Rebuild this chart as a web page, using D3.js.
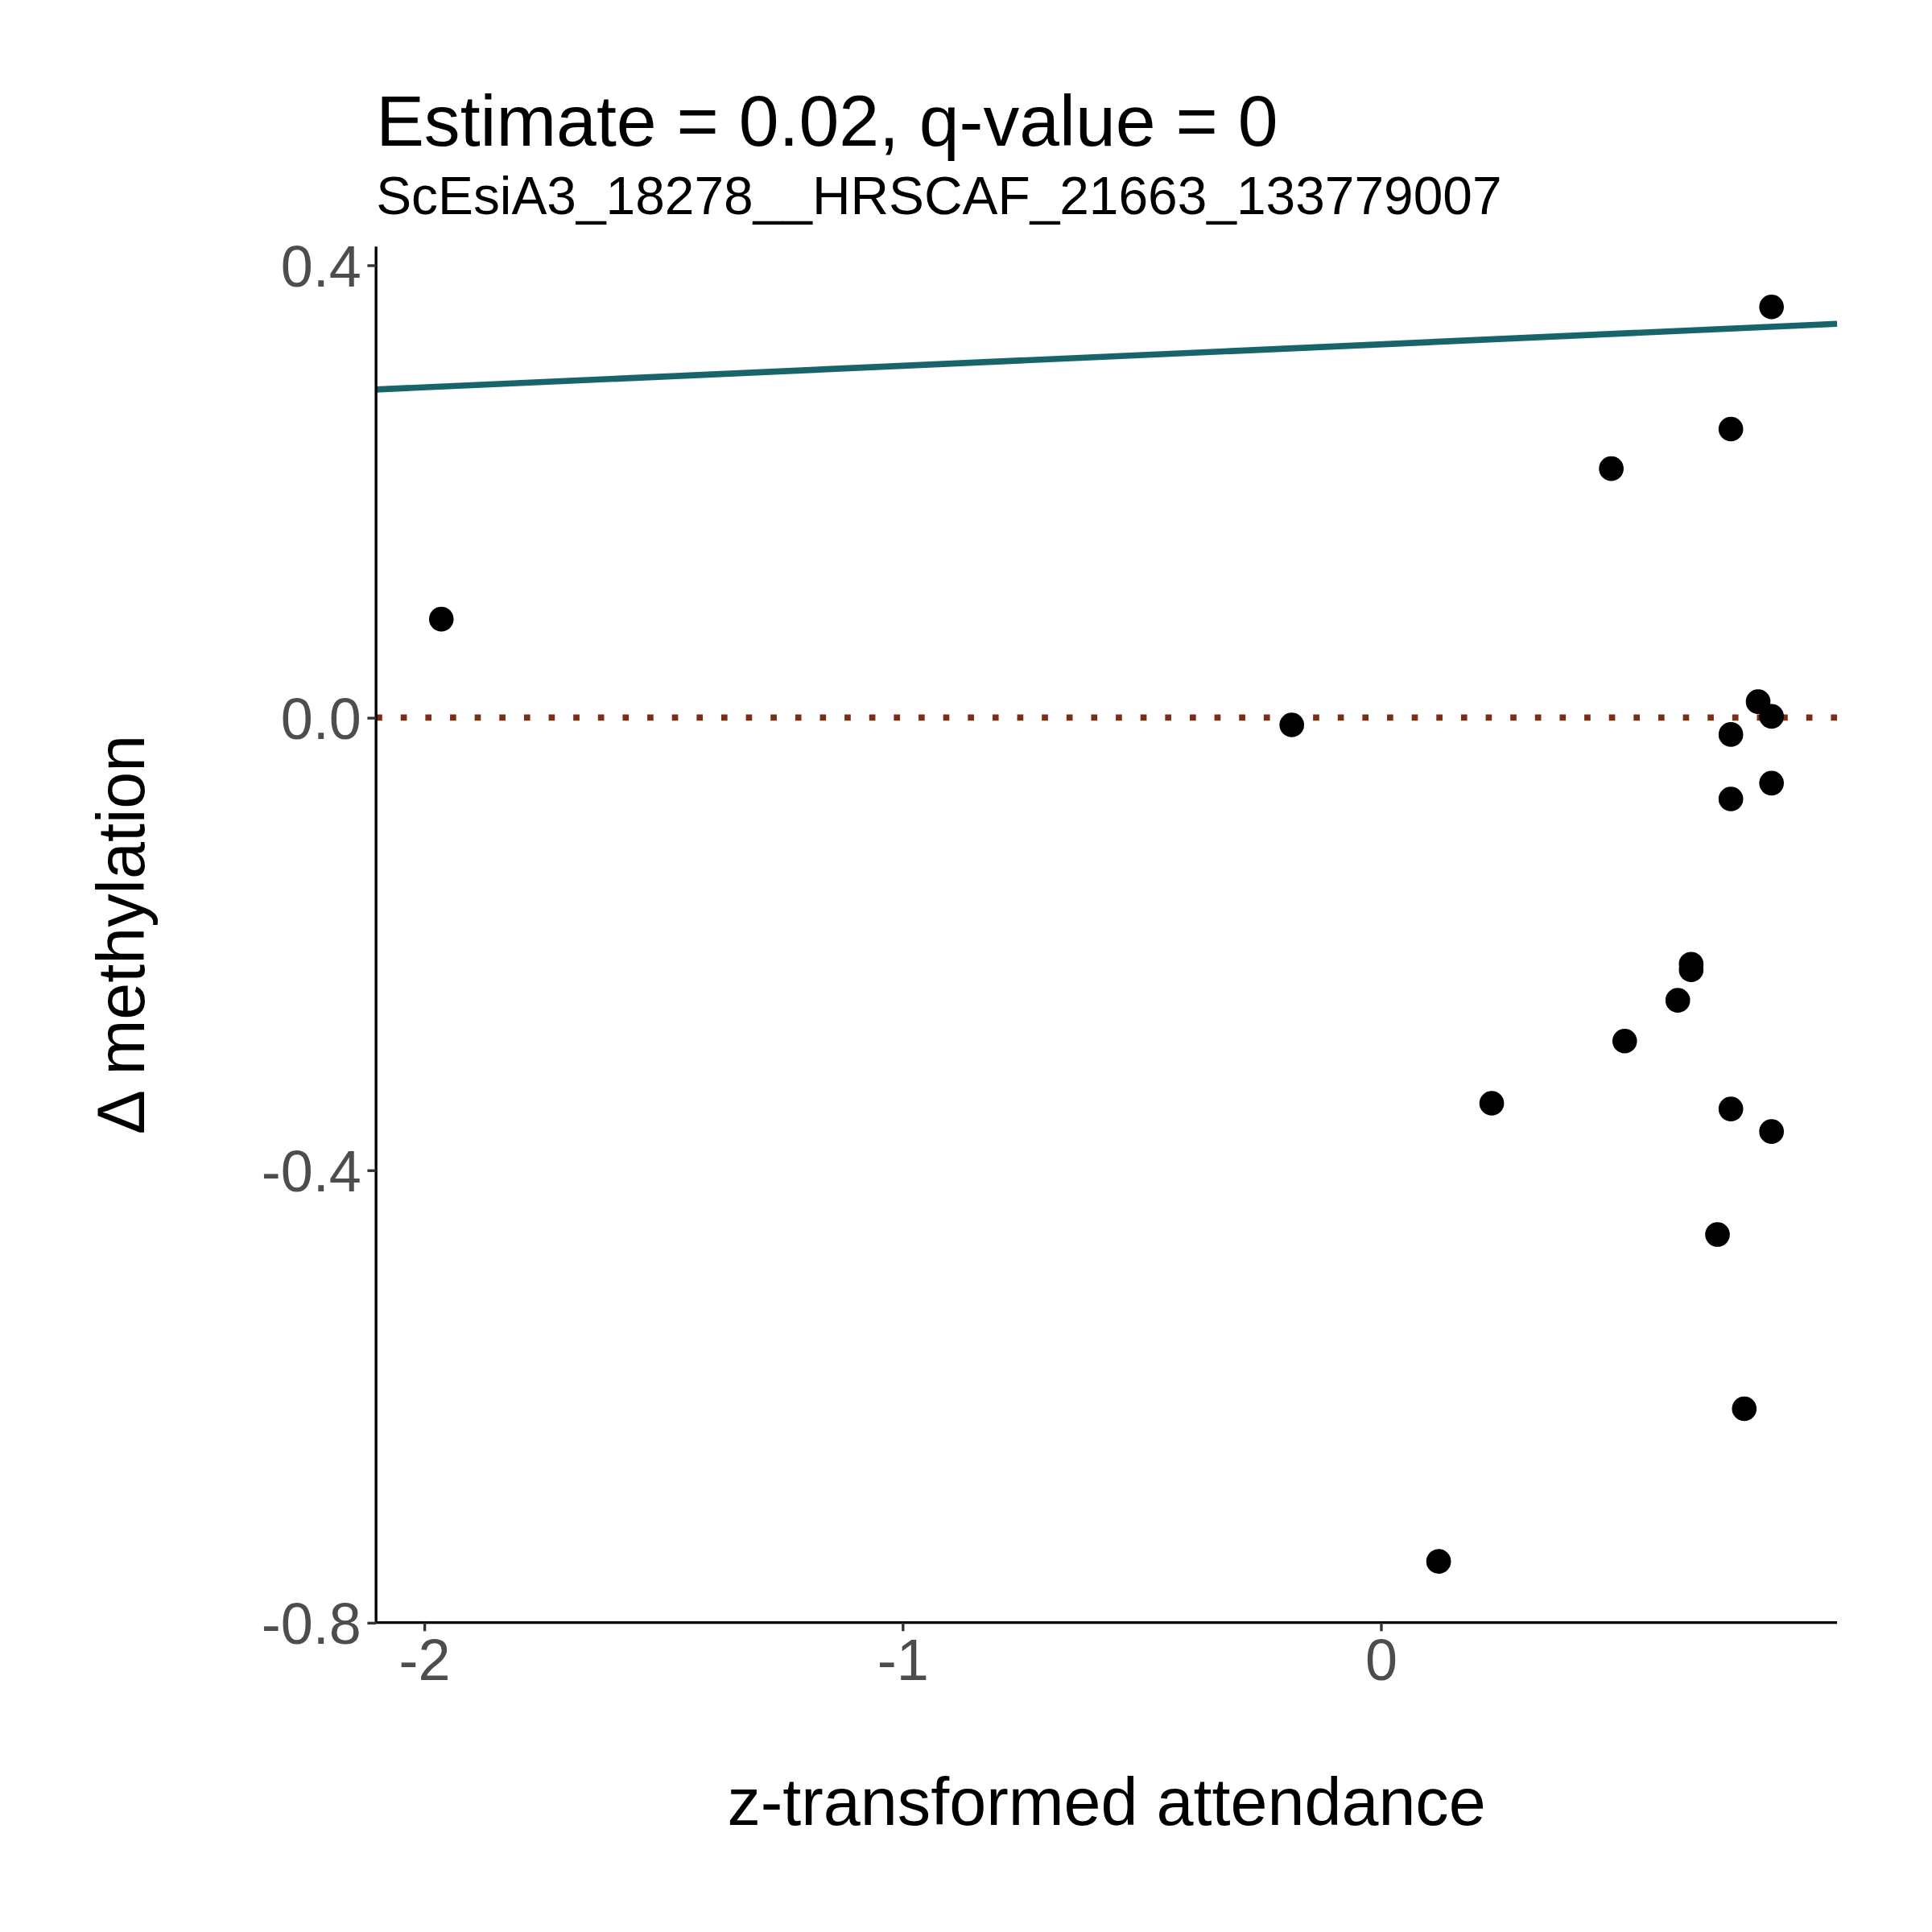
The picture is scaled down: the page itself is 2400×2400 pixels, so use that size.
<!DOCTYPE html>
<html><head><meta charset="utf-8">
<script src="https://cdn.jsdelivr.net/npm/d3@7"></script>
<style>body{margin:0;background:#fff}</style></head>
<body><script>
const xs=[-1.964,-0.186,0.482,0.732,0.817,0.789,0.817,0.732,0.817,0.732,0.649,0.649,0.621,0.510,0.232,0.732,0.817,0.704,0.760,0.121];
const ys=[0.087,-0.0065,0.220,0.255,0.363,0.014,0.001,-0.015,-0.058,-0.072,-0.218,-0.223,-0.250,-0.286,-0.341,-0.346,-0.366,-0.457,-0.611,-0.746];
const fitX=[-2.1005,0.954], fitY=[0.290,0.348];
const xTicks=[-2,-1,0], yTicks=[0.4,0.0,-0.4,-0.8];
const xLabels=["-2","-1","0"], yLabels=["0.4","0.0","-0.4","-0.8"];
const L=305,R=1490,T=200,B=1316;
const svg=d3.select("body").append("svg").attr("width",2400).attr("height",2400).attr("viewBox","0 0 1567 1567").style("font-family","Liberation Sans, Arial, sans-serif");
const x=d3.scaleLinear().domain([-2.1005,0.954]).range([L,R]);
const y=d3.scaleLinear().domain([-0.8,0.4163]).range([B,T]);
svg.append("line").attr("x1",L).attr("x2",R).attr("y1",y(0)).attr("y2",y(0)).attr("stroke","#7a2e14").attr("stroke-width",5).attr("stroke-dasharray","5,15");
svg.append("line").attr("x1",x(fitX[0])).attr("x2",x(fitX[1])).attr("y1",y(fitY[0])).attr("y2",y(fitY[1])).attr("stroke","#17646b").attr("stroke-width",5);
svg.selectAll("circle.p").data(xs).enter().append("circle").attr("cx",d=>x(d)).attr("cy",(d,i)=>y(ys[i])).attr("r",10).attr("fill","#000");
const gx=svg.append("g").attr("transform",`translate(0,${B})`).call(d3.axisBottom(x).tickValues(xTicks).tickFormat((d,i)=>xLabels[i]).tickSize(7).tickPadding(6));
const gy=svg.append("g").attr("transform",`translate(${L},0)`).call(d3.axisLeft(y).tickValues(yTicks).tickFormat((d,i)=>yLabels[i]).tickSize(7).tickPadding(5));
[gx,gy].forEach(g=>{g.select(".domain").attr("stroke","#000").attr("stroke-width",2.2);g.selectAll(".tick line").attr("stroke","#333").attr("stroke-width",2.2);g.selectAll("text").attr("fill","#4d4d4d").style("font-size","47px").style("font-family","Liberation Sans, Arial, sans-serif");});
gy.selectAll("text").attr("dy","0.36em");
gx.select(".domain").attr("d",`M${L},0H${R}`);
gy.select(".domain").attr("d",`M0,${T}V${B}`);
svg.append("text").attr("x",305).attr("y",118).style("font-size","58.5px").text("Estimate = 0.02, q-value = 0");
svg.append("text").attr("x",305).attr("y",174).style("font-size","43px").text("ScEsiA3_18278__HRSCAF_21663_133779007");
svg.append("text").attr("x",(L+R)/2).attr("y",1480).attr("text-anchor","middle").style("font-size","54px").text("z-transformed attendance");
svg.append("text").attr("transform",`translate(117,${(T+B)/2}) rotate(-90)`).attr("text-anchor","middle").style("font-size","54px").text("Δ methylation");
</script></body></html>
